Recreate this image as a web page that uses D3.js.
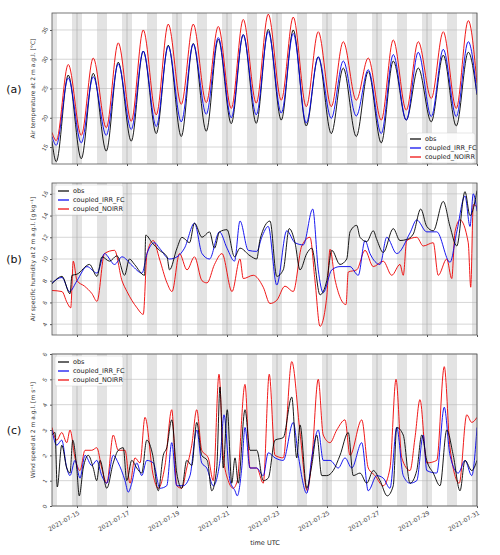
<!DOCTYPE html>
<html><head><meta charset="utf-8">
<script src="https://cdn.jsdelivr.net/npm/d3@7"></script>
<style>
body{margin:0;background:#fff;font-family:"DejaVu Sans",sans-serif;}
.tick text{fill:#444;font-size:6px;}
.lg text{font-size:6.5px;fill:#222;}
</style></head><body>
<div id="chart"></div>
<script>
// days since 2021-07-14 00 UTC
var tickLabels = ["2021-07-15","2021-07-17","2021-07-19","2021-07-21","2021-07-23","2021-07-25","2021-07-27","2021-07-29","2021-07-31"];
var tickDays = [1,3,5,7,9,11,13,15,17];

// air temperature: daily minimum (~04 UTC) and maximum (~15 UTC)
var tStart = {obs: 16, irr: 16.8, noirr: 17.5};
var tEnd = {obs: 23.9, irr: 24.1, noirr: 25.9};
var tObsMin = [12.5,13,14.3,16,17.3,16.8,17.7,19,19.05,19.6,18.6,17.3,16.8,15.7,19.6,19.3,18.6];
var tObsMax = [27.3,27.6,29.5,31.4,32.4,32.7,33.4,34.2,35.1,35,30.4,28.5,27.9,29.7,28.5,30.7,31.2];
var tIrrMin = [15.3,15.7,17,18,18.5,19.3,20.6,20,20.5,20.8,19.1,19.9,20.3,17.3,19.6,20.2,20.2];
var tIrrMax = [26.8,27,29.2,31.4,32.2,32.6,33.7,34.2,34.7,34.4,30.4,29.7,28.2,30.8,31.2,31.7,33];
var tNoMin = [16.1,17,18.3,19.4,20.5,22.3,22.6,21.6,22.5,23,21.9,21.9,23,19.6,21.3,23.3,21.6];
var tNoMax = [29.1,30.2,32.8,35,36,36,35.6,36.8,37.7,37.2,34.7,33,30.2,33.3,33,34.7,36.6];

// specific humidity [day, g/kg]
var qObs = [[0,7.7],[0.4,8.4],[0.72,6.8],[0.8,8.5],[1,8.6],[1.5,9.5],[1.8,8.4],[2,10.2],[2.3,9.8],[2.6,10.3],[2.9,8.5],[3.1,10],[3.3,9.5],[3.7,8.5],[3.75,12.2],[4,11.5],[4.3,10.8],[4.6,10.2],[4.7,9],[5,11],[5.2,12],[5.5,11.5],[5.7,13.3],[6,12],[6.3,12.5],[6.5,11],[6.7,12.5],[7,12.7],[7.3,10.2],[7.52,11],[7.92,10.3],[8.19,10],[8.32,11.8],[8.72,13.5],[8.99,8.4],[9.25,9],[9.49,12.8],[9.72,11.5],[9.92,9],[10.19,10.5],[10.39,11],[10.72,6.7],[10.99,8],[11.19,10.8],[11.52,9.5],[11.79,10],[11.92,12.5],[12.19,13.1],[12.32,12],[12.59,11.6],[12.85,12.6],[12.99,11.8],[13.25,10.6],[13.65,12.8],[13.92,11.7],[14.19,11.8],[14.45,12.3],[14.75,14.6],[14.99,13],[15.25,12.6],[15.65,15.3],[15.92,13],[16.19,11.2],[16.52,16.2],[16.72,14],[17,16.3]];
var qIrr = [[0,7.8],[0.4,8.3],[0.7,7],[1,8],[1.4,9.3],[1.8,8.7],[2.1,10.5],[2.5,9.5],[2.8,10.2],[3.2,9.4],[3.6,8.7],[3.8,10.5],[4.1,11.5],[4.3,11],[4.7,10],[5,10.2],[5.3,11],[5.7,13.3],[6,10.5],[6.3,10],[6.7,12.5],[7,11],[7.3,9.8],[7.52,13.5],[7.85,10.8],[8.19,10.7],[8.39,12],[8.65,13],[8.99,7.6],[9.39,12.6],[9.72,11.5],[10.05,11.3],[10.43,14.6],[10.65,9],[10.85,6.9],[11.19,9],[11.52,9.3],[11.92,9.3],[12.25,8.5],[12.52,11.7],[12.72,10.5],[13.12,9.5],[13.39,12],[13.79,10.5],[14.32,12.4],[14.59,13.6],[14.99,12.5],[15.39,12.5],[15.92,9.7],[16.19,12.5],[16.52,15.8],[16.72,13],[16.85,16],[17,14.4]];
var qNo = [[0,7.1],[0.4,7],[0.6,6],[0.75,5.5],[0.85,9.8],[1,8],[1.3,7.5],[1.6,6.8],[1.8,6.1],[2.1,10.5],[2.5,10.8],[2.8,8],[3,7],[3.4,5.5],[3.65,4.9],[3.8,10.5],[4.05,11.7],[4.3,10],[4.6,7.8],[4.8,7],[5.1,10.5],[5.4,9],[5.7,10.2],[6,8],[6.2,7.8],[6.5,9.5],[6.8,10.5],[7.2,7],[7.52,10],[7.65,8.2],[8.05,8.5],[8.45,7.4],[8.72,5.9],[8.99,6.2],[9.32,7.5],[9.65,7],[9.99,11.2],[10.32,12],[10.52,8],[10.72,3.8],[10.99,6.5],[11.12,10.9],[11.32,8.1],[11.76,5.8],[11.85,8.8],[12.19,9],[12.52,10.8],[12.85,9.3],[13.25,9.8],[13.59,8.5],[13.92,9.5],[14.05,8.5],[14.19,11.7],[14.59,12],[14.85,11.2],[15.25,11.5],[15.45,8.5],[15.79,10],[15.99,8.2],[16.12,12.5],[16.32,13.6],[16.65,11.5],[16.75,7.4],[16.85,15],[17,14.8]];

// wind speed [day, m/s]
var wObs = [[0,2.8],[0.12,2.9],[0.21,0.75],[0.39,2.4],[0.59,1.5],[0.72,1.3],[0.83,2.6],[0.99,1.5],[1.09,0.4],[1.25,1.5],[1.45,2],[1.65,1.5],[1.79,1],[1.92,1.8],[2.19,0.7],[2.45,1.7],[2.65,2.2],[2.85,2.3],[2.99,1],[3.19,1.8],[3.39,1.5],[3.59,1.3],[3.79,2.6],[4.03,2],[4.25,0.6],[4.45,2],[4.59,2.3],[4.79,3.4],[4.99,1.3],[5.19,0.7],[5.39,1.8],[5.59,1.6],[5.79,3.3],[5.99,2],[6.21,1.8],[6.39,0.6],[6.59,1.5],[6.72,4.7],[6.85,1.5],[7.01,3.8],[7.19,0.9],[7.32,1.9],[7.45,0.9],[7.72,3.8],[7.92,2.2],[8.19,2.2],[8.45,1],[8.65,1.1],[8.92,2.6],[9.25,2.7],[9.59,4.3],[9.79,1.9],[9.92,3.2],[10.19,0.7],[10.39,1.6],[10.59,2.8],[10.79,1.2],[10.99,1.2],[11.25,1.4],[11.52,2],[11.85,2.9],[12.05,1.2],[12.32,1.3],[12.59,0.9],[12.85,1.4],[13.12,1],[13.41,0.4],[13.65,0.8],[13.79,3.1],[14.05,2.8],[14.32,0.9],[14.59,1.4],[14.79,2.8],[14.99,1.8],[15.25,1.3],[15.52,0.8],[15.79,3],[16.05,2],[16.32,0.6],[16.52,1.8],[16.79,1.4],[17,1.8]];
var wIrr = [[0,3],[0.19,2.4],[0.39,2.6],[0.59,1.5],[0.72,1.2],[0.92,1.8],[1.12,1.1],[1.32,2],[1.59,1.6],[1.79,1.8],[1.99,1.2],[2.19,0.9],[2.45,2],[2.65,1.7],[2.92,1],[3.05,0.55],[3.19,0.9],[3.39,1.7],[3.59,1.2],[3.79,1.8],[4.05,1.7],[4.32,0.7],[4.59,0.8],[4.79,2.5],[4.99,0.8],[5.25,0.8],[5.52,1.2],[5.79,3],[5.99,1.7],[6.19,1.5],[6.45,0.8],[6.72,1.8],[6.88,3.6],[7.12,1],[7.32,0.6],[7.41,0.4],[7.59,1.5],[7.72,3.1],[7.92,1.5],[8.19,1.5],[8.45,1.2],[8.65,2.1],[8.92,1.9],[9.25,1.8],[9.65,3.3],[9.85,2],[10.19,0.5],[10.39,1.9],[10.65,3],[10.85,1.8],[11.12,1.8],[11.45,1.5],[11.72,1.9],[11.99,1.5],[12.39,2.5],[12.65,0.6],[12.99,1.2],[13.25,1.1],[13.52,0.7],[13.79,3.1],[14.05,1.2],[14.32,0.9],[14.59,1],[14.85,2.8],[14.99,1.4],[15.39,1.3],[15.69,3.9],[15.92,2],[16.25,1.3],[16.52,1.8],[16.79,1.2],[17,3.1]];
var wNo = [[0,3.1],[0.19,2.6],[0.39,2.9],[0.59,2.5],[0.72,3],[0.92,1.9],[1.12,1.4],[1.32,2.2],[1.59,2.2],[1.79,2.3],[1.99,1.5],[2.19,0.9],[2.45,2.8],[2.65,2.2],[2.92,2.2],[3.12,0.9],[3.32,1.9],[3.52,1.7],[3.72,3.5],[4.05,1.2],[4.25,0.7],[4.52,1.6],[4.79,3.8],[4.99,0.8],[5.19,0.7],[5.39,1.5],[5.59,2.4],[5.79,3.8],[5.99,2.2],[6.25,1.9],[6.45,1],[6.68,5.2],[6.85,2],[7.05,1],[7.25,0.7],[7.41,1],[7.72,4.8],[7.92,1.5],[8.19,1.5],[8.45,0.9],[8.69,5.2],[8.92,2],[9.25,1.9],[9.59,5.7],[9.92,2.9],[10.21,0.6],[10.39,1.8],[10.65,5],[10.85,2.8],[11.12,2.5],[11.39,3],[11.72,3.4],[11.92,2],[12.39,3.4],[12.65,1.5],[12.92,1.2],[13.25,0.8],[13.52,1.5],[13.76,5],[13.99,1.9],[14.32,1.4],[14.52,2.7],[14.72,4.2],[14.99,1.7],[15.39,1.8],[15.69,5.5],[15.92,2.3],[16.29,0.9],[16.59,3.6],[16.79,3.3],[17,3.5]];

function tempSeries(s, mins, maxs, e) {
  var pts = [[0, s]];
  for (var i = 0; i < mins.length; i++) {
    pts.push([i + 0.17, mins[i]]);
    pts.push([i + 0.65, maxs[i]]);
  }
  pts.push([17, e]);
  return pts;
}

var W = 500, H = 555, left = 52, right = 477;
var colors = {obs: "#000", irr: "#0000ee", noirr: "#ee0000"};
var names = {obs: "obs", irr: "coupled_IRR_FC", noirr: "coupled_NOIRR"};

var panels = [
  {tag: "(a)", top: 13, bottom: 164, dom: [12.1, 37.9], ticks: [15,20,25,30,35],
   label: "Air temperature at 2 m a.g.l. [°C]", legend: "br",
   series: {obs: tempSeries(tStart.obs, tObsMin, tObsMax, tEnd.obs),
            irr: tempSeries(tStart.irr, tIrrMin, tIrrMax, tEnd.irr),
            noirr: tempSeries(tStart.noirr, tNoMin, tNoMax, tEnd.noirr)}},
  {tag: "(b)", top: 183, bottom: 335, dom: [3, 17], ticks: [4,6,8,10,12,14,16],
   label: "Air specific humidity at 2 m a.g.l. [g kg⁻¹]", legend: "tl",
   series: {obs: qObs, irr: qIrr, noirr: qNo}},
  {tag: "(c)", top: 354, bottom: 506, dom: [0, 6], ticks: [0,1,2,3,4,5,6],
   label: "Wind speed at 2 m a.g.l. [m s⁻¹]", legend: "tl",
   series: {obs: wObs, irr: wIrr, noirr: wNo}}
];

var svg = d3.select("#chart").append("svg").attr("width", W).attr("height", H);
var x = d3.scaleLinear().domain([0, 17]).range([left, right]);

svg.append("clipPath").attr("id", "clip").append("rect")
  .attr("x", left).attr("y", 0).attr("width", right - left).attr("height", H);

panels.forEach(function(p, pi) {
  var y = d3.scaleLinear().domain(p.dom).range([p.bottom, p.top]);
  var g = svg.append("g");
  // night bands
  var nights = [[0, 0.2]];
  for (var d = 0; d < 17; d++) nights.push([d + 0.8, Math.min(d + 1.2, 17)]);
  g.selectAll(".night").data(nights).enter().append("rect")
    .attr("x", function(n) { return x(n[0]); }).attr("width", function(n) { return x(n[1]) - x(n[0]); })
    .attr("y", p.top).attr("height", p.bottom - p.top).attr("fill", "#e3e3e3");
  // grid
  g.selectAll(".hg").data(p.ticks).enter().append("line")
    .attr("x1", left).attr("x2", right).attr("y1", y).attr("y2", y)
    .attr("stroke", "#bbb").attr("stroke-width", 0.6);
  g.selectAll(".vg").data(tickDays).enter().append("line")
    .attr("y1", p.top).attr("y2", p.bottom).attr("x1", x).attr("x2", x)
    .attr("stroke", "#aaa").attr("stroke-width", 0.6);
  // lines
  var line = d3.line().x(function(d) { return x(d[0]); }).y(function(d) { return y(d[1]); })
    .curve(d3.curveMonotoneX);
  var order = pi === 0 ? ["obs", "irr", "noirr"] : ["noirr", "irr", "obs"];
  order.forEach(function(k) {
    g.append("path").datum(p.series[k]).attr("d", line).attr("clip-path", "url(#clip)")
      .attr("fill", "none").attr("stroke", colors[k]).attr("stroke-width", 0.9);
  });
  // frame
  g.append("rect").attr("x", left).attr("y", p.top).attr("width", right - left).attr("height", p.bottom - p.top)
    .attr("fill", "none").attr("stroke", "#555").attr("stroke-width", 0.8);
  // y axis
  var ya = g.append("g").attr("transform", "translate(" + left + ",0)")
    .call(d3.axisLeft(y).tickValues(p.ticks).tickFormat(d3.format("d")).tickSize(2).tickPadding(2));
  ya.select(".domain").remove();
  ya.selectAll("text").attr("x", -7).attr("dy", "0.32em").attr("text-anchor", "middle")
    .attr("transform", "rotate(-60,-7,0)");
  ya.selectAll("line").attr("stroke", "#555");
  // x axis
  var xa = g.append("g").attr("transform", "translate(0," + p.bottom + ")")
    .call(d3.axisBottom(x).tickValues(tickDays).tickSize(2).tickFormat(function() { return ""; }));
  xa.select(".domain").remove();
  xa.selectAll("line").attr("stroke", "#555");
  if (pi === 2) {
    g.selectAll(".xl").data(tickDays).enter().append("text")
      .attr("transform", function(d) { return "translate(" + (x(d) + 3) + "," + (p.bottom + 8) + ") rotate(-30)"; })
      .attr("text-anchor", "end").attr("font-size", 6).attr("fill", "#444")
      .text(function(d, i) { return tickLabels[i]; });
  }
  // y label
  svg.append("text").attr("transform", "translate(35," + ((p.top + p.bottom) / 2) + ") rotate(-90)")
    .attr("text-anchor", "middle").attr("font-size", 6).attr("fill", "#333").text(p.label);
  svg.append("text").attr("x", 14).attr("y", (p.top + p.bottom) / 2 + 4)
    .attr("text-anchor", "middle").attr("font-size", 11).attr("fill", "#111").text(p.tag);
  // legend
  var lx = p.legend === "br" ? 407 : 55, ly = p.legend === "br" ? 133 : p.top + 2;
  var lg = svg.append("g").attr("class", "lg").attr("transform", "translate(" + lx + "," + ly + ")");
  lg.append("rect").attr("width", 68).attr("height", 30).attr("rx", 2)
    .attr("fill", "rgba(255,255,255,0.85)").attr("stroke", "#ccc").attr("stroke-width", 0.5);
  ["obs", "irr", "noirr"].forEach(function(k, i) {
    lg.append("line").attr("x1", 3).attr("x2", 14).attr("y1", 6 + i * 9).attr("y2", 6 + i * 9)
      .attr("stroke", colors[k]).attr("stroke-width", 1.2);
    lg.append("text").attr("x", 18).attr("y", 8.3 + i * 9).text(names[k]);
  });
});

svg.append("text").attr("x", 265).attr("y", 545).attr("text-anchor", "middle")
  .attr("font-size", 6.5).attr("fill", "#222").text("time UTC");
</script>
</body></html>
